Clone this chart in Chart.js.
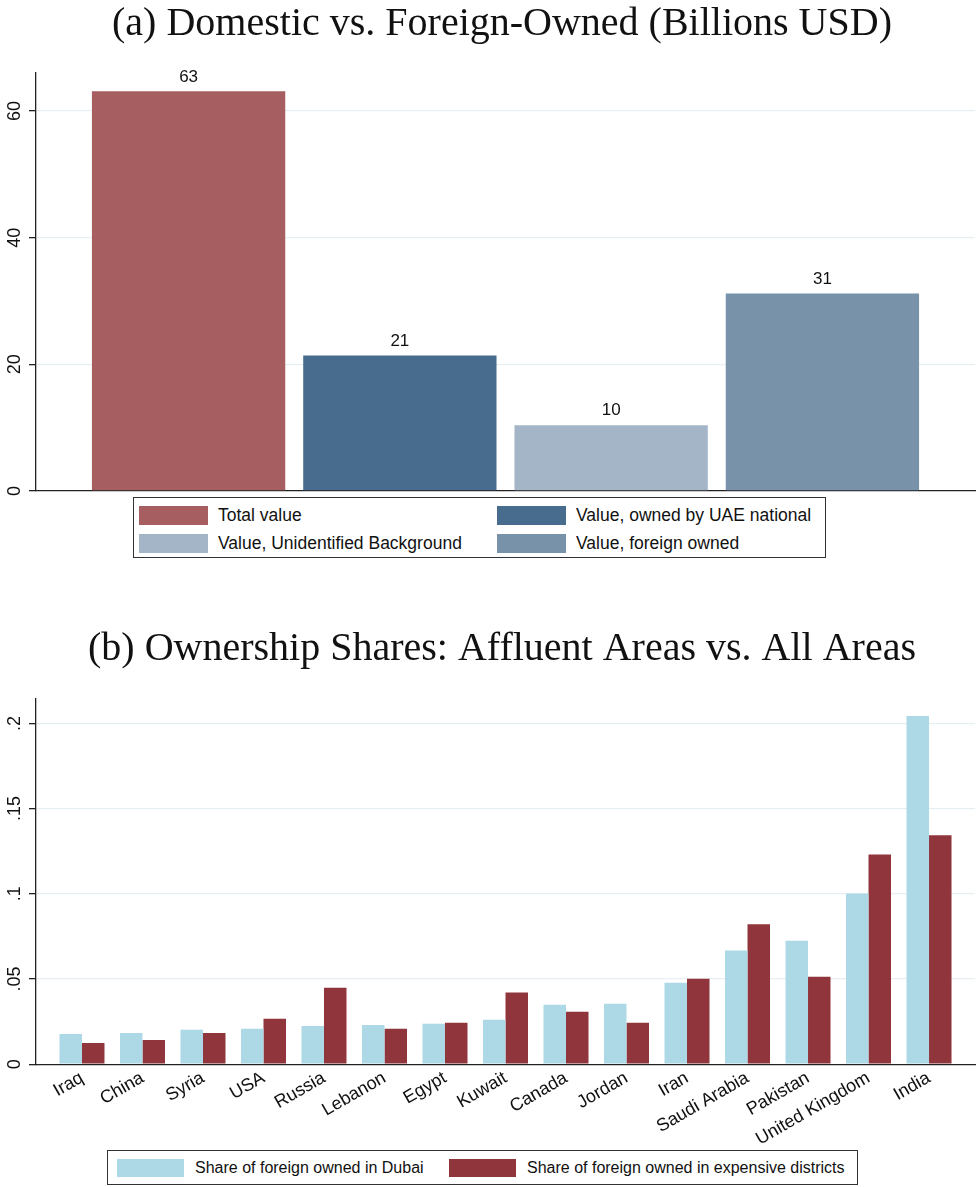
<!DOCTYPE html>
<html>
<head>
<meta charset="utf-8">
<title>Dubai property ownership</title>
<script src="https://cdn.jsdelivr.net/npm/chart.js@4.4.1/dist/chart.umd.min.js"></script>
<style>
  body { margin: 0; background: #fff; }
  #page { position: relative; width: 976px; height: 1187px; overflow: hidden; }
  canvas { position: absolute; left: 0; }
  #chartA { top: 0; }
  #chartB { top: 600px; }
  .legend {
    position: absolute;
    box-sizing: border-box;
    border: 1px solid #333;
    background: #fff;
    font-family: "Liberation Sans", Arial, sans-serif;
    color: #111;
    display: grid;
  }
  .legend .item { display: flex; align-items: center; white-space: nowrap; }
  .legend .swatch { display: inline-block; flex: none; }
  #legendA {
    left: 133px; top: 497px; width: 693px; height: 61px;
    padding: 3px 0 0 5px;
    grid-template-columns: 358px 1fr;
    grid-auto-rows: 28px;
    font-size: 17.5px;
  }
  #legendA .swatch { width: 69px; height: 19px; margin-right: 10px; }
  #legendB {
    left: 107px; top: 1150px; width: 751px; height: 35px;
    padding: 0 0 0 9px;
    grid-template-columns: 332px 1fr;
    grid-auto-rows: 33px;
    font-size: 16px;
  }
  #legendB .swatch { width: 67px; height: 18px; margin-right: 11px; }
</style>
</head>
<body>
<div id="page">
  <canvas id="chartA" width="976" height="510"></canvas>
  <canvas id="chartB" width="976" height="555"></canvas>
  <div class="legend" id="legendA"></div>
  <div class="legend" id="legendB"></div>
</div>
<script>
// panel (a): value of the stock, billions USD
const OWNERSHIP_GROUPS = ['Total value', 'Value, owned by UAE national', 'Value, Unidentified Background', 'Value, foreign owned'];
const OWNERSHIP_VALUES = [63.1, 21.4, 10.4, 31.2];
const VALUE_TICKS = [0, 20, 40, 60];

// panel (b): share of foreign owners by country
const COUNTRIES = ['Iraq', 'China', 'Syria', 'USA', 'Russia', 'Lebanon', 'Egypt', 'Kuwait', 'Canada', 'Jordan', 'Iran', 'Saudi Arabia', 'Pakistan', 'United Kingdom', 'India'];
const SHARE_DUBAI = [0.0178, 0.0184, 0.0202, 0.0208, 0.0225, 0.0231, 0.0237, 0.0261, 0.0349, 0.0355, 0.0478, 0.0667, 0.0725, 0.1002, 0.2043];
const SHARE_EXPENSIVE = [0.0125, 0.0143, 0.0184, 0.0267, 0.0449, 0.0208, 0.0243, 0.0421, 0.0308, 0.0243, 0.0502, 0.0821, 0.0514, 0.1231, 0.1343];
const SHARE_SERIES = ['Share of foreign owned in Dubai', 'Share of foreign owned in expensive districts'];
const SHARE_TICKS = [0, 0.05, 0.1, 0.15, 0.2];

const COLORS_A = ['#a65e60', '#486c8e', '#a3b5c6', '#7892aa'];
const COLORS_B = ['#add8e6', '#91353d'];

const SANS = '"Liberation Sans", Arial, sans-serif';
const SERIF = '"Liberation Serif", "Times New Roman", serif';
const INK = '#111';
const AXIS = '#222';
const GRID = '#e8eff2';

// Stata style numbers: no leading zero
function fmtTick(v) {
  return String(+v.toFixed(4)).replace(/^0\./, '.');
}

// y labels are drawn turned 90 degrees, as in the original
function rotatedYLabels(x) {
  return {
    id: 'rotatedYLabels',
    afterDraw: function (chart) {
      const scale = chart.scales.y;
      const ctx = chart.ctx;
      ctx.save();
      ctx.font = '18px ' + SANS;
      ctx.fillStyle = INK;
      ctx.textAlign = 'center';
      ctx.textBaseline = 'middle';
      scale.ticks.forEach(function (t) {
        const y = scale.getPixelForValue(t.value);
        ctx.save();
        ctx.translate(x, y);
        ctx.rotate(-Math.PI / 2);
        ctx.fillText(fmtTick(t.value), 0, 0);
        ctx.restore();
      });
      ctx.restore();
    }
  };
}

const barValueLabels = {
  id: 'barValueLabels',
  afterDatasetsDraw: function (chart) {
    const ctx = chart.ctx;
    ctx.save();
    ctx.font = '17px ' + SANS;
    ctx.fillStyle = INK;
    ctx.textAlign = 'center';
    ctx.textBaseline = 'bottom';
    chart.data.datasets.forEach(function (ds, i) {
      chart.getDatasetMeta(i).data.forEach(function (bar, j) {
        ctx.fillText(String(Math.round(ds.data[j])), bar.x, bar.y - 6);
      });
    });
    ctx.restore();
  }
};

function gridColor(c) {
  return c.tick && c.tick.value === 0 ? 'rgba(0,0,0,0)' : GRID;
}

function titleOpts(text, top, bottom) {
  return {
    display: true,
    text: text,
    color: INK,
    font: { family: SERIF, size: 40, weight: 'normal', lineHeight: 1 },
    padding: { top: top, bottom: bottom }
  };
}

function buildLegend(id, names, colors) {
  const box = document.getElementById(id);
  names.forEach(function (name, i) {
    const item = document.createElement('div');
    item.className = 'item';
    const sw = document.createElement('span');
    sw.className = 'swatch';
    sw.style.background = colors[i];
    const label = document.createElement('span');
    label.textContent = name;
    item.appendChild(sw);
    item.appendChild(label);
    box.appendChild(item);
  });
}

new Chart(document.getElementById('chartA'), {
  type: 'bar',
  data: {
    labels: [''],
    datasets: OWNERSHIP_GROUPS.map(function (name, i) {
      return {
        label: name,
        data: [OWNERSHIP_VALUES[i]],
        backgroundColor: COLORS_A[i],
        borderWidth: 0,
        categoryPercentage: 0.9,
        barPercentage: 0.915
      };
    })
  },
  options: {
    responsive: false,
    animation: false,
    layout: { padding: { left: 29, right: 1, top: 0, bottom: 19 } },
    plugins: {
      legend: { display: false },
      tooltip: { enabled: false },
      title: titleOpts('(a) Domestic vs. Foreign-Owned (Billions USD)', 4, 29)
    },
    scales: {
      x: {
        grid: { display: false, drawTicks: false },
        ticks: { display: false },
        border: { color: AXIS, width: 1.3 }
      },
      y: {
        min: 0,
        max: 66,
        afterBuildTicks: function (axis) {
          axis.ticks = VALUE_TICKS.map(function (v) { return { value: v }; });
        },
        ticks: { display: false },
        grid: { color: gridColor, tickColor: AXIS, tickLength: 7, lineWidth: 1.3 },
        border: { color: AXIS, width: 1.3 }
      }
    }
  },
  plugins: [rotatedYLabels(15), barValueLabels]
});

new Chart(document.getElementById('chartB'), {
  type: 'bar',
  data: {
    datasets: [SHARE_DUBAI, SHARE_EXPENSIVE].map(function (values, s) {
      return {
        label: SHARE_SERIES[s],
        data: values.map(function (v, i) { return { x: i, y: v }; }),
        backgroundColor: COLORS_B[s],
        borderWidth: 0,
        categoryPercentage: 0.744,
        barPercentage: 1.0
      };
    })
  },
  options: {
    responsive: false,
    animation: false,
    layout: { padding: { left: 29, right: 1, top: 0, bottom: 2 } },
    plugins: {
      legend: { display: false },
      tooltip: { enabled: false },
      title: titleOpts('(b) Ownership Shares: Affluent Areas vs. All Areas', 29, 30)
    },
    scales: {
      x: {
        type: 'linear',
        offset: false,
        min: -0.76,
        max: COUNTRIES.length - 0.24,
        afterBuildTicks: function (axis) {
          axis.ticks = COUNTRIES.map(function (c, i) { return { value: i }; });
        },
        ticks: {
          autoSkip: false,
          minRotation: 30,
          maxRotation: 30,
          padding: 3,
          color: INK,
          font: { family: SANS, size: 18 },
          callback: function (v) { return COUNTRIES[v]; }
        },
        grid: { display: false, drawTicks: false },
        border: { color: AXIS, width: 1.3 }
      },
      y: {
        min: 0,
        max: 0.2143,
        afterBuildTicks: function (axis) {
          axis.ticks = SHARE_TICKS.map(function (v) { return { value: v }; });
        },
        ticks: { display: false },
        grid: { color: gridColor, tickColor: AXIS, tickLength: 7, lineWidth: 1.3 },
        border: { color: AXIS, width: 1.3 }
      }
    }
  },
  plugins: [rotatedYLabels(15)]
});

buildLegend('legendA', OWNERSHIP_GROUPS, COLORS_A);
buildLegend('legendB', SHARE_SERIES, COLORS_B);
</script>
</body>
</html>
